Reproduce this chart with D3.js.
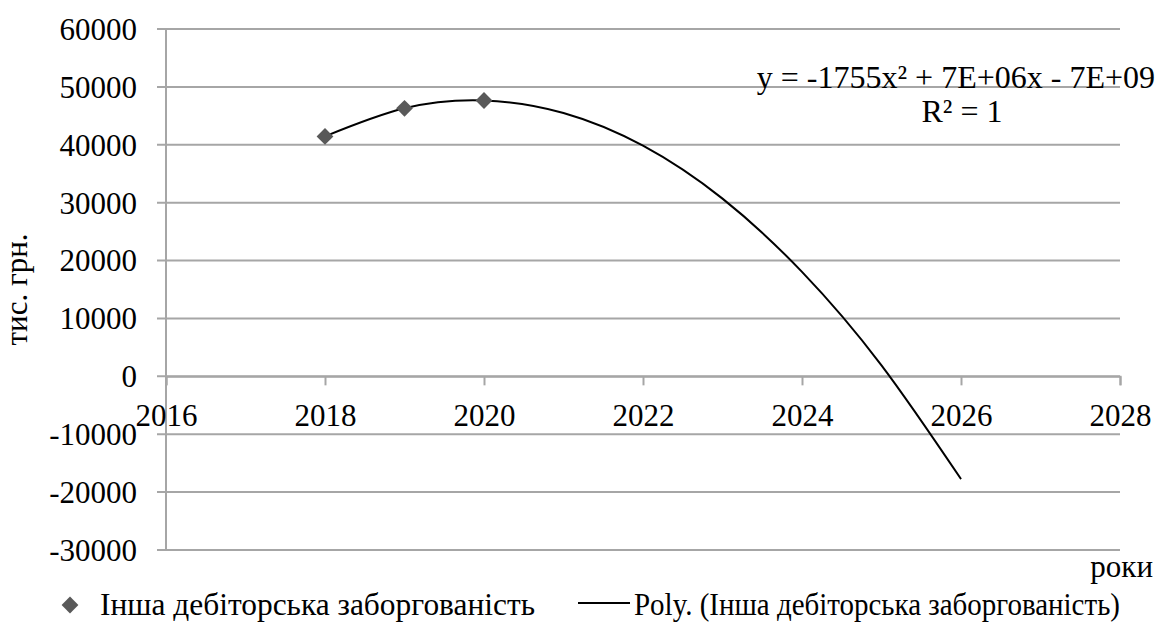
<!DOCTYPE html>
<html>
<head>
<meta charset="utf-8">
<script src="https://cdn.jsdelivr.net/npm/d3@7"></script>
<style>
    body { margin: 0; background: #fff; }
</style>
</head>
<body>
<div class="chartdiv"></div>
<script>
// years with actual values
let years = [2018, 2019, 2020]
let values = [41450, 46300, 47650]
// polynomial trend line (forecast to 2026)
let trendYears = [2018, 2019, 2020, 2021, 2022, 2023, 2024, 2025, 2026]
let trendValues = [41450, 46300, 47650, 45500, 39850, 30700, 18050, 1900, -17750]
let xTicks = [2016, 2018, 2020, 2022, 2024, 2026, 2028]
let yTicks = [-30000, -20000, -10000, 0, 10000, 20000, 30000, 40000, 50000, 60000]

let seriesName = 'Інша дебіторська заборгованість'
let trendName = 'Poly. (Інша дебіторська заборгованість)'
let yTitle = 'тис. грн.'
let xTitle = 'роки'
let eqText = 'y = -1755x² + 7E+06x - 7E+09'
let r2Text = 'R² = 1'

var w = 1175,
    h = 625,
    fs = '31px',
    ff = "'Liberation Serif'",
    gridcol = '#a6a6a6'

var svg = d3.select('.chartdiv')
    .append('svg')
    .attr('width', w)
    .attr('height', h)

var xScale = d3.scaleLinear().domain([2016, 2028]).range([166, 1120])
var yScale = d3.scaleLinear().domain([-30000, 60000]).range([550, 29])

// small helper so every label gets the same font
function label(x, y, str, anchor) {
    return svg.append('text')
        .attr('x', x)
        .attr('y', y)
        .attr('text-anchor', anchor || 'start')
        .style('font-family', ff)
        .style('font-size', fs)
        .style('fill', '#000')
        .text(str)
}

// gridlines + y ticks
svg.append('g')
    .selectAll('line')
    .data(yTicks)
    .enter()
    .append('line')
    .attr('x1', xScale(2016) - 9)
    .attr('x2', xScale(2028))
    .attr('y1', d => yScale(d))
    .attr('y2', d => yScale(d))
    .style('stroke', gridcol)
    .style('stroke-width', 2)

// y axis line
svg.append('line')
    .attr('x1', xScale(2016)).attr('x2', xScale(2016))
    .attr('y1', yScale(60000)).attr('y2', yScale(-30000))
    .style('stroke', gridcol)
    .style('stroke-width', 2)

// x axis at zero
let xAxis = d3.axisBottom(xScale)
    .tickValues(xTicks)
    .tickSize(9)
    .tickFormat(d => d)
let gx = svg.append('g')
    .attr('transform', 'translate(0,' + yScale(0) + ')')
    .call(xAxis)
gx.select('.domain').style('stroke', gridcol).style('stroke-width', 2)
gx.selectAll('.tick line').style('stroke', gridcol).style('stroke-width', 2)
gx.selectAll('.tick text')
    .attr('y', 50)
    .attr('dy', 0)
    .style('font-size', fs)
    .style('font-family', ff)
    .style('fill', '#000')

// y tick labels
svg.append('g')
    .selectAll('text')
    .data(yTicks)
    .enter()
    .append('text')
    .attr('x', 137)
    .attr('y', d => yScale(d))
    .attr('dy', '0.35em')
    .attr('text-anchor', 'end')
    .style('font-family', ff)
    .style('font-size', fs)
    .text(d => d)

// trend line
var trendData = trendYears.map((d, i) => ({ x: d, y: trendValues[i] }))
var newline = d3.line()
    .x(d => xScale(d.x))
    .y(d => yScale(d.y))
    .curve(d3.curveNatural)
svg.append('path')
    .datum(trendData)
    .attr('d', newline)
    .style('fill', 'none')
    .style('stroke', '#000')
    .style('stroke-width', 2)

// markers
var diamond = d3.symbol().type(d3.symbolDiamond2).size(180)
svg.append('g')
    .selectAll('path')
    .data(years)
    .enter()
    .append('path')
    .attr('d', diamond)
    .attr('transform', (d, i) => 'translate(' + xScale(d) + ',' + yScale(values[i]) + ')')
    .style('fill', '#595959')

// equation
label(1155, 88, eqText, 'end').style('font-size', '32px')
label(962, 122, r2Text, 'middle').style('font-size', '32px')

// axis titles
label(0, 0, yTitle, 'middle')
    .attr('transform', 'translate(27,' + ((yScale(60000) + yScale(-30000)) / 2) + ') rotate(-90)')
label(1153, 577, xTitle, 'end')

// legend
svg.append('path')
    .attr('d', diamond)
    .attr('transform', 'translate(70,605)')
    .style('fill', '#595959')
label(100, 615, seriesName)
    .attr('textLength', 435)
    .attr('lengthAdjust', 'spacingAndGlyphs')
svg.append('line')
    .attr('x1', 578).attr('x2', 630)
    .attr('y1', 603).attr('y2', 603)
    .style('stroke', '#000')
    .style('stroke-width', 2)
label(634, 615, trendName)
    .attr('textLength', 486)
    .attr('lengthAdjust', 'spacingAndGlyphs')
</script>
</body>
</html>
